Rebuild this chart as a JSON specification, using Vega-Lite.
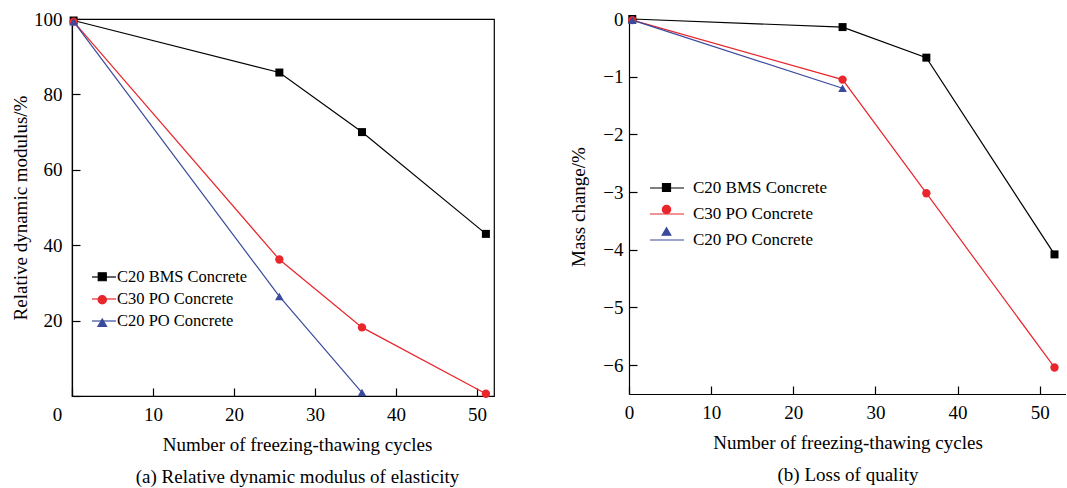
{
  "$schema": "https://vega.github.io/schema/vega-lite/v6.json",
  "padding": {"left": 10, "top": 9, "right": 0, "bottom": 0},
  "background": "white",
  "spacing": 74,
  "config": {
    "font": "Liberation Serif",
    "axis": {
      "labelFont": "Liberation Serif", "labelFontSize": 19, "labelColor": "black",
      "titleFont": "Liberation Serif", "titleFontSize": 19, "titleFontWeight": "normal", "titleColor": "black",
      "domainColor": "black", "domainWidth": 1.2, "tickColor": "black", "tickWidth": 1.2,
      "tickSize": -8, "grid": false, "labelFlush": false
    },
    "legend": {"labelFont": "Liberation Serif", "labelColor": "black", "padding": 0}
  },
  "resolve": {"scale": {"color": "independent", "stroke": "independent", "shape": "independent", "size": "independent"}},
  "datasets": {
    "modulus": [
      {"series": "C20 BMS Concrete", "cycles": 0.2, "value": 99.6},
      {"series": "C20 BMS Concrete", "cycles": 25.6, "value": 85.8},
      {"series": "C20 BMS Concrete", "cycles": 35.8, "value": 70.0},
      {"series": "C20 BMS Concrete", "cycles": 51.1, "value": 43.0},
      {"series": "C30 PO Concrete", "cycles": 0.2, "value": 99.3},
      {"series": "C30 PO Concrete", "cycles": 25.6, "value": 36.2},
      {"series": "C30 PO Concrete", "cycles": 35.8, "value": 18.2},
      {"series": "C30 PO Concrete", "cycles": 51.1, "value": 0.6},
      {"series": "C20 PO Concrete", "cycles": 0.2, "value": 99.3},
      {"series": "C20 PO Concrete", "cycles": 25.6, "value": 26.4},
      {"series": "C20 PO Concrete", "cycles": 35.8, "value": 0.9}
    ],
    "mass": [
      {"series": "C20 BMS Concrete", "cycles": 0.4, "value": 0},
      {"series": "C20 BMS Concrete", "cycles": 26.0, "value": -0.14},
      {"series": "C20 BMS Concrete", "cycles": 36.2, "value": -0.67},
      {"series": "C20 BMS Concrete", "cycles": 51.8, "value": -4.08},
      {"series": "C30 PO Concrete", "cycles": 0.4, "value": -0.02},
      {"series": "C30 PO Concrete", "cycles": 26.0, "value": -1.05},
      {"series": "C30 PO Concrete", "cycles": 36.2, "value": -3.02},
      {"series": "C30 PO Concrete", "cycles": 51.8, "value": -6.04},
      {"series": "C20 PO Concrete", "cycles": 0.4, "value": -0.02},
      {"series": "C20 PO Concrete", "cycles": 26.0, "value": -1.2}
    ]
  },
  "hconcat": [
    {
      "width": 422, "height": 377,
      "view": {"stroke": "black", "strokeWidth": 1.2},
      "data": {"name": "modulus"},
      "encoding": {
        "x": {"field": "cycles", "type": "quantitative",
          "scale": {"domain": [0, 52.1], "nice": false, "zero": false},
          "axis": {"values": [0, 10, 20, 30, 40, 50], "labelPadding": 17,
            "labelOffset": {"condition": {"test": "datum.value === 0", "value": -15}, "value": 0},
            "title": ["Number of freezing-thawing cycles", "(a) Relative dynamic modulus of elasticity"],
            "titleLineHeight": 32, "titlePadding": 11, "titleX": 225}},
        "y": {"field": "value", "type": "quantitative",
          "scale": {"domain": [0, 100], "nice": false},
          "axis": {"values": [0, 20, 40, 60, 80, 100], "labelPadding": 18,
            "labelExpr": "datum.value === 0 ? '' : datum.label",
            "title": "Relative dynamic modulus/%", "titlePadding": 3}}
      },
      "layer": [
        {
          "mark": {"type": "line", "strokeWidth": 1.2, "opacity": 0},
          "encoding": {
            "stroke": {"field": "series", "type": "nominal",
              "sort": ["C20 BMS Concrete", "C30 PO Concrete", "C20 PO Concrete"],
              "scale": {"range": ["#000000", "#e8262b", "#3a4a9c"]},
              "legend": {"orient": "none", "legendX": 19, "legendY": 245, "title": null,
                "symbolType": "stroke", "symbolSize": 576, "symbolStrokeWidth": 1.2, "symbolOpacity": 1,
                "labelFontSize": 16.5, "labelOffset": 0, "rowPadding": -3}}
          }
        },
        {
          "mark": {"type": "line", "strokeWidth": 1.2},
          "encoding": {
            "color": {"field": "series", "type": "nominal",
              "scale": {"domain": ["C20 BMS Concrete", "C30 PO Concrete", "C20 PO Concrete"], "range": ["#000000", "#e8262b", "#3a4a9c"]},
              "legend": {"orient": "none", "legendX": 22, "legendY": 249.5, "title": null,
                "labelFontSize": 16.5, "symbolSize": 64, "labelOffset": 11, "rowPadding": 6,
                "labelColor": "rgba(0,0,0,0)", "symbolStrokeWidth": 1.2}}
          }
        },
        {
          "mark": {"type": "point", "filled": true, "opacity": 1},
          "encoding": {
            "color": {"field": "series", "type": "nominal",
              "scale": {"domain": ["C20 BMS Concrete", "C30 PO Concrete", "C20 PO Concrete"], "range": ["#000000", "#e8262b", "#3a4a9c"]}},
            "shape": {"field": "series", "type": "nominal",
              "scale": {"domain": ["C20 BMS Concrete", "C30 PO Concrete", "C20 PO Concrete"], "range": ["square", "circle", "triangle-up"]},
              "legend": null},
            "size": {"field": "series", "type": "nominal",
              "scale": {"domain": ["C20 BMS Concrete", "C30 PO Concrete", "C20 PO Concrete"], "range": [64, 75, 110]},
              "legend": null}
          }
        }
      ]
    },
    {
      "width": 437, "height": 375,
      "view": {"stroke": null},
      "data": {"name": "mass"},
      "encoding": {
        "x": {"field": "cycles", "type": "quantitative",
          "scale": {"domain": [0, 53.2], "nice": false, "zero": false},
          "axis": {"values": [0, 10, 20, 30, 40, 50], "labelPadding": 17,
            "title": ["Number of freezing-thawing cycles", "(b) Loss of quality"],
            "titleLineHeight": 32, "titlePadding": 11}},
        "y": {"field": "value", "type": "quantitative",
          "scale": {"domain": [-6.5, 0], "nice": false},
          "axis": {"values": [-6, -5, -4, -3, -2, -1, 0], "labelPadding": 14,
            "title": "Mass change/%", "titlePadding": 14}}
      },
      "layer": [
        {
          "mark": {"type": "rule", "color": "black", "strokeWidth": 1.2},
          "encoding": {"y": {"datum": 0}}
        },
        {
          "mark": {"type": "line", "strokeWidth": 1.2, "opacity": 0},
          "encoding": {
            "stroke": {"field": "series", "type": "nominal",
              "sort": ["C20 BMS Concrete", "C30 PO Concrete", "C20 PO Concrete"],
              "scale": {"range": ["#000000", "#e8262b", "#3a4a9c"]},
              "legend": {"orient": "none", "legendX": 20, "legendY": 151, "title": null,
                "symbolType": "stroke", "symbolSize": 1156, "symbolStrokeWidth": 1.2, "symbolOpacity": 1,
                "labelFontSize": 17, "labelOffset": 8, "rowPadding": -18.5}}
          }
        },
        {
          "mark": {"type": "line", "strokeWidth": 1.2},
          "encoding": {
            "color": {"field": "series", "type": "nominal",
              "scale": {"domain": ["C20 BMS Concrete", "C30 PO Concrete", "C20 PO Concrete"], "range": ["#000000", "#e8262b", "#3a4a9c"]},
              "legend": {"orient": "none", "legendX": 29, "legendY": 160, "title": null,
                "labelFontSize": 17, "symbolSize": 64, "labelOffset": 21, "rowPadding": 4,
                "labelColor": "rgba(0,0,0,0)", "symbolStrokeWidth": 1.2}}
          }
        },
        {
          "mark": {"type": "point", "filled": true, "opacity": 1},
          "encoding": {
            "color": {"field": "series", "type": "nominal",
              "scale": {"domain": ["C20 BMS Concrete", "C30 PO Concrete", "C20 PO Concrete"], "range": ["#000000", "#e8262b", "#3a4a9c"]}},
            "shape": {"field": "series", "type": "nominal",
              "scale": {"domain": ["C20 BMS Concrete", "C30 PO Concrete", "C20 PO Concrete"], "range": ["square", "circle", "triangle-up"]},
              "legend": null},
            "size": {"field": "series", "type": "nominal",
              "scale": {"domain": ["C20 BMS Concrete", "C30 PO Concrete", "C20 PO Concrete"], "range": [64, 75, 110]},
              "legend": null}
          }
        }
      ]
    }
  ]
}
